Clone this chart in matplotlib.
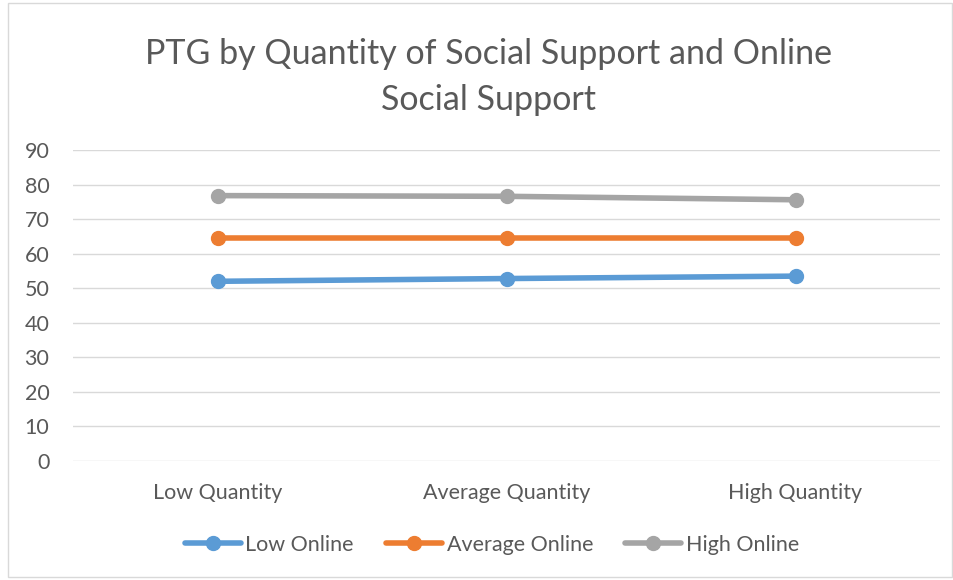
import matplotlib.pyplot as plt
from matplotlib.patches import Rectangle

plt.rcParams['font.family'] = ['Lato', 'DejaVu Sans']

categories = ['Low Quantity', 'Average Quantity', 'High Quantity']
low_online = [52.0, 52.8, 53.5]
average_online = [64.5, 64.5, 64.5]
high_online = [76.8, 76.6, 75.6]

series = [
    ('Low Online', low_online, '#5b9bd5'),
    ('Average Online', average_online, '#ed7d31'),
    ('High Online', high_online, '#a5a5a5'),
]

fig = plt.figure(figsize=(9.54, 5.8), dpi=100)
fig.patches.append(Rectangle((8 / 954, 0.005), 944 / 954, 0.99,
                             transform=fig.transFigure, fill=False,
                             edgecolor='#d9d9d9', linewidth=1))
ax = fig.add_axes([73 / 954, 1 - 461 / 580, 867 / 954, 311 / 580])

x = list(range(len(categories)))
for name, vals, col in series:
    ax.plot(x, vals, color=col, linewidth=4, marker='o', markersize=10,
            label=name, solid_capstyle='round')

ax.set_xlim(-0.5, 2.5)
ax.set_ylim(0, 90)
ax.set_yticks(range(0, 91, 10))
ax.set_xticks(x)
ax.set_xticklabels(categories)
ax.grid(axis='y', color='#d9d9d9', linewidth=1)
ax.set_axisbelow(True)
for s in ax.spines.values():
    s.set_visible(False)
ax.tick_params(length=0, labelsize=15.5, colors='#595959')
ax.tick_params(axis='x', pad=16)
ax.tick_params(axis='y', pad=17)

fig.text(489 / 954, 1 - 77 / 580,
         'PTG by Quantity of Social Support and Online\nSocial Support',
         ha='center', va='center', fontsize=24.5, color='#595959',
         linespacing=1.52)

fig.legend(loc='center', bbox_to_anchor=(492 / 954, 1 - 545 / 580),
           ncol=3, frameon=False, fontsize=15.5, labelcolor='#595959',
           handlelength=2.6, handletextpad=0.2, columnspacing=1.5)

fig.savefig('out.png', dpi=100)
